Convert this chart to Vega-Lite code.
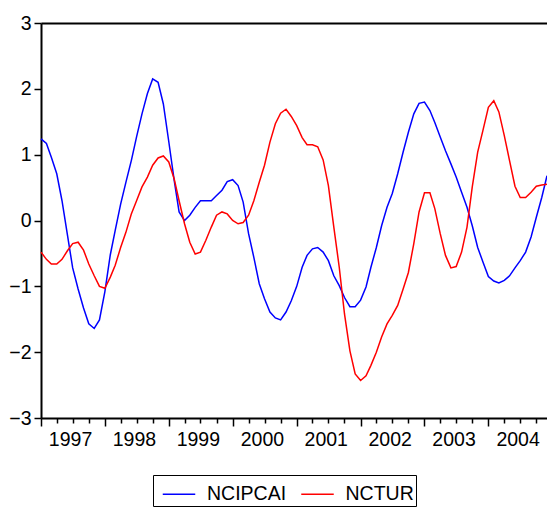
{
  "$schema": "https://vega.github.io/schema/vega-lite/v6.json",
  "autosize": "none",
  "width": 506,
  "height": 395,
  "padding": {"left": 41, "top": 23, "right": 0, "bottom": 96},
  "background": "white",
  "config": {
    "view": {"stroke": null},
    "font": "Liberation Sans",
    "axis": {"grid": false, "domainColor": "black", "tickColor": "black", "labelColor": "black", "labelFont": "Liberation Sans", "labelFontSize": 19.5, "title": null}
  },
  "data": {"values": [
    {"d":"1997-01","NCIPCAI":1.24,"NCTUR":-0.48},
    {"d":"1997-02","NCIPCAI":1.17,"NCTUR":-0.59},
    {"d":"1997-03","NCIPCAI":0.96,"NCTUR":-0.66},
    {"d":"1997-04","NCIPCAI":0.71,"NCTUR":-0.66},
    {"d":"1997-05","NCIPCAI":0.30,"NCTUR":-0.59},
    {"d":"1997-06","NCIPCAI":-0.22,"NCTUR":-0.46},
    {"d":"1997-07","NCIPCAI":-0.72,"NCTUR":-0.35},
    {"d":"1997-08","NCIPCAI":-1.04,"NCTUR":-0.33},
    {"d":"1997-09","NCIPCAI":-1.33,"NCTUR":-0.45},
    {"d":"1997-10","NCIPCAI":-1.57,"NCTUR":-0.66},
    {"d":"1997-11","NCIPCAI":-1.64,"NCTUR":-0.84},
    {"d":"1997-12","NCIPCAI":-1.51,"NCTUR":-1.00},
    {"d":"1998-01","NCIPCAI":-1.08,"NCTUR":-1.03},
    {"d":"1998-02","NCIPCAI":-0.52,"NCTUR":-0.86},
    {"d":"1998-03","NCIPCAI":-0.15,"NCTUR":-0.68},
    {"d":"1998-04","NCIPCAI":0.25,"NCTUR":-0.41},
    {"d":"1998-05","NCIPCAI":0.58,"NCTUR":-0.18},
    {"d":"1998-06","NCIPCAI":0.91,"NCTUR":0.10},
    {"d":"1998-07","NCIPCAI":1.27,"NCTUR":0.30},
    {"d":"1998-08","NCIPCAI":1.62,"NCTUR":0.51},
    {"d":"1998-09","NCIPCAI":1.93,"NCTUR":0.66},
    {"d":"1998-10","NCIPCAI":2.15,"NCTUR":0.84},
    {"d":"1998-11","NCIPCAI":2.10,"NCTUR":0.95},
    {"d":"1998-12","NCIPCAI":1.77,"NCTUR":0.98},
    {"d":"1999-01","NCIPCAI":1.20,"NCTUR":0.89},
    {"d":"1999-02","NCIPCAI":0.61,"NCTUR":0.63},
    {"d":"1999-03","NCIPCAI":0.13,"NCTUR":0.30},
    {"d":"1999-04","NCIPCAI":0.00,"NCTUR":-0.05},
    {"d":"1999-05","NCIPCAI":0.08,"NCTUR":-0.33},
    {"d":"1999-06","NCIPCAI":0.20,"NCTUR":-0.51},
    {"d":"1999-07","NCIPCAI":0.30,"NCTUR":-0.48},
    {"d":"1999-08","NCIPCAI":0.30,"NCTUR":-0.30},
    {"d":"1999-09","NCIPCAI":0.30,"NCTUR":-0.10},
    {"d":"1999-10","NCIPCAI":0.38,"NCTUR":0.08},
    {"d":"1999-11","NCIPCAI":0.46,"NCTUR":0.13},
    {"d":"1999-12","NCIPCAI":0.59,"NCTUR":0.10},
    {"d":"2000-01","NCIPCAI":0.62,"NCTUR":0.00},
    {"d":"2000-02","NCIPCAI":0.53,"NCTUR":-0.05},
    {"d":"2000-03","NCIPCAI":0.28,"NCTUR":-0.03},
    {"d":"2000-04","NCIPCAI":-0.20,"NCTUR":0.08},
    {"d":"2000-05","NCIPCAI":-0.56,"NCTUR":0.30},
    {"d":"2000-06","NCIPCAI":-0.96,"NCTUR":0.58},
    {"d":"2000-07","NCIPCAI":-1.19,"NCTUR":0.84},
    {"d":"2000-08","NCIPCAI":-1.39,"NCTUR":1.19},
    {"d":"2000-09","NCIPCAI":-1.48,"NCTUR":1.47},
    {"d":"2000-10","NCIPCAI":-1.51,"NCTUR":1.63},
    {"d":"2000-11","NCIPCAI":-1.39,"NCTUR":1.69},
    {"d":"2000-12","NCIPCAI":-1.22,"NCTUR":1.58},
    {"d":"2001-01","NCIPCAI":-1.00,"NCTUR":1.44},
    {"d":"2001-02","NCIPCAI":-0.71,"NCTUR":1.26},
    {"d":"2001-03","NCIPCAI":-0.53,"NCTUR":1.15},
    {"d":"2001-04","NCIPCAI":-0.43,"NCTUR":1.15},
    {"d":"2001-05","NCIPCAI":-0.41,"NCTUR":1.12},
    {"d":"2001-06","NCIPCAI":-0.48,"NCTUR":0.92},
    {"d":"2001-07","NCIPCAI":-0.61,"NCTUR":0.53},
    {"d":"2001-08","NCIPCAI":-0.84,"NCTUR":-0.10},
    {"d":"2001-09","NCIPCAI":-0.99,"NCTUR":-0.71},
    {"d":"2001-10","NCIPCAI":-1.17,"NCTUR":-1.42},
    {"d":"2001-11","NCIPCAI":-1.31,"NCTUR":-1.98},
    {"d":"2001-12","NCIPCAI":-1.31,"NCTUR":-2.33},
    {"d":"2002-01","NCIPCAI":-1.21,"NCTUR":-2.43},
    {"d":"2002-02","NCIPCAI":-1.01,"NCTUR":-2.36},
    {"d":"2002-03","NCIPCAI":-0.71,"NCTUR":-2.20},
    {"d":"2002-04","NCIPCAI":-0.41,"NCTUR":-2.00},
    {"d":"2002-05","NCIPCAI":-0.08,"NCTUR":-1.77},
    {"d":"2002-06","NCIPCAI":0.20,"NCTUR":-1.57},
    {"d":"2002-07","NCIPCAI":0.41,"NCTUR":-1.44},
    {"d":"2002-08","NCIPCAI":0.71,"NCTUR":-1.29},
    {"d":"2002-09","NCIPCAI":1.04,"NCTUR":-1.04},
    {"d":"2002-10","NCIPCAI":1.34,"NCTUR":-0.79},
    {"d":"2002-11","NCIPCAI":1.62,"NCTUR":-0.35},
    {"d":"2002-12","NCIPCAI":1.78,"NCTUR":0.13},
    {"d":"2003-01","NCIPCAI":1.80,"NCTUR":0.42},
    {"d":"2003-02","NCIPCAI":1.67,"NCTUR":0.42},
    {"d":"2003-03","NCIPCAI":1.49,"NCTUR":0.18},
    {"d":"2003-04","NCIPCAI":1.27,"NCTUR":-0.20},
    {"d":"2003-05","NCIPCAI":1.06,"NCTUR":-0.53},
    {"d":"2003-06","NCIPCAI":0.86,"NCTUR":-0.72},
    {"d":"2003-07","NCIPCAI":0.66,"NCTUR":-0.70},
    {"d":"2003-08","NCIPCAI":0.43,"NCTUR":-0.48},
    {"d":"2003-09","NCIPCAI":0.20,"NCTUR":-0.10},
    {"d":"2003-10","NCIPCAI":-0.08,"NCTUR":0.51},
    {"d":"2003-11","NCIPCAI":-0.41,"NCTUR":1.04},
    {"d":"2003-12","NCIPCAI":-0.63,"NCTUR":1.37},
    {"d":"2004-01","NCIPCAI":-0.85,"NCTUR":1.72},
    {"d":"2004-02","NCIPCAI":-0.92,"NCTUR":1.82},
    {"d":"2004-03","NCIPCAI":-0.95,"NCTUR":1.65},
    {"d":"2004-04","NCIPCAI":-0.91,"NCTUR":1.29},
    {"d":"2004-05","NCIPCAI":-0.84,"NCTUR":0.91},
    {"d":"2004-06","NCIPCAI":-0.72,"NCTUR":0.52},
    {"d":"2004-07","NCIPCAI":-0.61,"NCTUR":0.35},
    {"d":"2004-08","NCIPCAI":-0.48,"NCTUR":0.35},
    {"d":"2004-09","NCIPCAI":-0.25,"NCTUR":0.43},
    {"d":"2004-10","NCIPCAI":0.05,"NCTUR":0.52},
    {"d":"2004-11","NCIPCAI":0.35,"NCTUR":0.54},
    {"d":"2004-12","NCIPCAI":0.68,"NCTUR":0.55}
  ]},
  "resolve": {"axis": {"x": "independent"}},
  "layer": [
    {
      "transform": [{"fold": ["NCIPCAI", "NCTUR"], "as": ["series", "value"]}],
      "mark": {"type": "line", "strokeWidth": 1.5},
      "encoding": {
        "x": {"field": "d", "type": "temporal",
          "scale": {"type": "utc", "domain": [{"year": 1997, "month": 1, "date": 1, "utc": true}, {"year": 2004, "month": 12, "date": 1, "utc": true}]},
          "axis": {"orient": "bottom", "labels": false, "domainWidth": 2, "tickWidth": 1.5, "tickSize": 8,
            "values": [
              {"year": 1997, "month": 1, "date": 1, "utc": true},
              {"year": 1998, "month": 1, "date": 1, "utc": true},
              {"year": 1999, "month": 1, "date": 1, "utc": true},
              {"year": 2000, "month": 1, "date": 1, "utc": true},
              {"year": 2001, "month": 1, "date": 1, "utc": true},
              {"year": 2002, "month": 1, "date": 1, "utc": true},
              {"year": 2003, "month": 1, "date": 1, "utc": true},
              {"year": 2004, "month": 1, "date": 1, "utc": true}
            ]}},
        "y": {"field": "value", "type": "quantitative",
          "scale": {"domain": [-3, 3], "nice": false, "zero": false},
          "axis": {"values": [-3, -2, -1, 0, 1, 2, 3], "tickSize": 7, "tickWidth": 1.5, "domainWidth": 2, "labelPadding": 3}},
        "color": {"field": "series", "type": "nominal",
          "scale": {"domain": ["NCIPCAI", "NCTUR"], "range": ["#0000ff", "#ff0000"]},
          "legend": {"title": null, "orient": "none", "legendX": 112, "legendY": 452, "direction": "horizontal",
            "symbolType": "stroke", "symbolSize": 1056, "symbolStrokeWidth": 1.5, "symbolOffset": 7,
            "labelFontSize": 19.5, "labelFont": "Liberation Sans", "labelColor": "black", "labelOffset": 11, "columnPadding": 6.5,
            "labelExpr": "datum.label + '  '",
            "strokeColor": "black", "padding": 2}}
      }
    },
    {
      "mark": {"type": "point", "opacity": 0},
      "encoding": {
        "x": {"field": "d", "type": "temporal",
          "axis": {"orient": "bottom", "labels": false, "domain": false, "tickWidth": 1.5, "tickSize": 5,
            "values": [
              {"year": 1997, "month": 4, "date": 1, "utc": true}, {"year": 1997, "month": 7, "date": 1, "utc": true}, {"year": 1997, "month": 10, "date": 1, "utc": true},
              {"year": 1998, "month": 4, "date": 1, "utc": true}, {"year": 1998, "month": 7, "date": 1, "utc": true}, {"year": 1998, "month": 10, "date": 1, "utc": true},
              {"year": 1999, "month": 4, "date": 1, "utc": true}, {"year": 1999, "month": 7, "date": 1, "utc": true}, {"year": 1999, "month": 10, "date": 1, "utc": true},
              {"year": 2000, "month": 4, "date": 1, "utc": true}, {"year": 2000, "month": 7, "date": 1, "utc": true}, {"year": 2000, "month": 10, "date": 1, "utc": true},
              {"year": 2001, "month": 4, "date": 1, "utc": true}, {"year": 2001, "month": 7, "date": 1, "utc": true}, {"year": 2001, "month": 10, "date": 1, "utc": true},
              {"year": 2002, "month": 4, "date": 1, "utc": true}, {"year": 2002, "month": 7, "date": 1, "utc": true}, {"year": 2002, "month": 10, "date": 1, "utc": true},
              {"year": 2003, "month": 4, "date": 1, "utc": true}, {"year": 2003, "month": 7, "date": 1, "utc": true}, {"year": 2003, "month": 10, "date": 1, "utc": true},
              {"year": 2004, "month": 4, "date": 1, "utc": true}, {"year": 2004, "month": 7, "date": 1, "utc": true}, {"year": 2004, "month": 10, "date": 1, "utc": true}
            ]}}
      }
    },
    {
      "mark": {"type": "point", "opacity": 0},
      "encoding": {
        "x": {"field": "d", "type": "temporal",
          "axis": {"orient": "bottom", "domain": false, "tickSize": 8, "tickColor": "transparent", "labelPadding": 4, "labelOverlap": false,
            "labelExpr": "utcFormat(datum.value, '%Y')",
            "values": [
              {"year": 1997, "month": 6, "date": 16, "utc": true},
              {"year": 1998, "month": 6, "date": 16, "utc": true},
              {"year": 1999, "month": 6, "date": 16, "utc": true},
              {"year": 2000, "month": 6, "date": 16, "utc": true},
              {"year": 2001, "month": 6, "date": 16, "utc": true},
              {"year": 2002, "month": 6, "date": 16, "utc": true},
              {"year": 2003, "month": 6, "date": 16, "utc": true},
              {"year": 2004, "month": 6, "date": 16, "utc": true}
            ]}}
      }
    },
    {
      "mark": {"type": "point", "opacity": 0},
      "encoding": {
        "x": {"field": "d", "type": "temporal",
          "axis": {"orient": "top", "labels": false, "ticks": false, "domainWidth": 2}}
      }
    }
  ]
}
